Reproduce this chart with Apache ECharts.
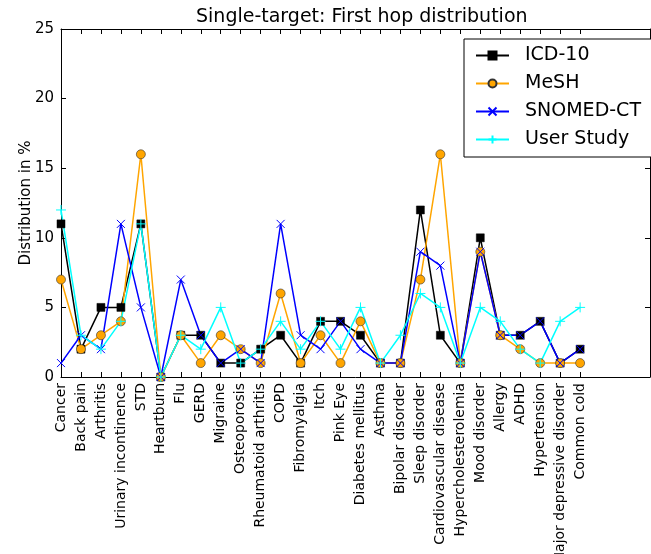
<!DOCTYPE html>
<html>
<head>
<meta charset="utf-8">
<script src="https://cdn.jsdelivr.net/npm/echarts@6/dist/echarts.min.js"></script>
<style>html,body{margin:0;padding:0;background:#fff}#c{width:651px;height:554px}</style>
</head>
<body>
<div id="c"></div>
<script>
var categories = ["Cancer","Back pain","Arthritis","Urinary incontinence","STD","Heartburn","Flu","GERD","Migraine","Osteoporosis","Rheumatoid arthritis","COPD","Fibromyalgia","Itch","Pink Eye","Diabetes mellitus","Asthma","Bipolar disorder","Sleep disorder","Cardiovascular disease","Hypercholesterolemia","Mood disorder","Allergy","ADHD","Hypertension","Major depressive disorder","Common cold"];
var icd10   = [11,2,5,5,11,0,3,3,1,1,2,3,1,4,4,3,1,1,12,3,1,10,3,3,4,1,2];
var mesh    = [7,2,3,4,16,0,3,1,3,2,1,6,1,3,1,4,1,1,7,16,1,9,3,2,1,1,1];
var snomed  = [1,3,2,11,5,0,7,3,1,2,1,11,3,2,4,2,1,1,9,8,1,9,3,3,4,1,2];
var userStudy = [12,3,2,4,11,0,3,2,5,1,2,4,2,4,2,5,1,3,6,5,1,5,4,2,1,4,5];
var yTicks = [0,5,10,15,20,25];

function pairs(arr){ return arr.map(function(v,i){ return [i,v]; }); }
var idx = categories.map(function(_,i){ return i; });
var F = '"DejaVu Sans", sans-serif';

var chart = echarts.init(document.getElementById('c'), null, {renderer:'canvas'});
chart.setOption({
  animation:false,
  backgroundColor:'#fff',
  title:{ text:'Single-target: First hop distribution', left:191, top:3,
    textStyle:{ fontFamily:F, fontSize:19, fontWeight:'normal', color:'#000' } },
  grid:{ left:61, right:1, top:29, bottom:177, outerBoundsMode:'none', containLabel:false },
  legend:{
    orient:'vertical', left:464, top:39,
    backgroundColor:'#fff', borderColor:'#000', borderWidth:1, borderRadius:0,
    padding:[7,15,8,11], itemWidth:33, itemHeight:10, itemGap:9,
    textStyle:{ fontFamily:F, fontSize:19, color:'#000', lineHeight:18, padding:[0,0,0,11] },
    data:['ICD-10','MeSH','SNOMED-CT','User Study']
  },
  xAxis:[{
    type:'value', min:0, max:29.5, position:'bottom',
    axisLine:{ show:true, onZero:false, lineStyle:{ color:'#000', width:1 } },
    axisTick:{ show:true, inside:true, length:5, customValues:idx, lineStyle:{ color:'#000' } },
    axisLabel:{ show:true, customValues:idx, rotate:90, margin:6, fontFamily:F, fontSize:14, color:'#000',
      formatter:function(v){ return categories[Math.round(v)] || ''; } },
    splitLine:{ show:false }
  },{
    type:'value', min:0, max:29.5, position:'top',
    axisLine:{ show:true, onZero:false, lineStyle:{ color:'#000', width:1 } },
    axisTick:{ show:true, inside:true, length:5, customValues:idx, lineStyle:{ color:'#000' } },
    axisLabel:{ show:false }, splitLine:{ show:false }
  }],
  yAxis:[{
    type:'value', min:0, max:25, interval:5, position:'left',
    name:'Distribution in %', nameLocation:'middle', nameGap:27, nameMoveOverlap:false,
    nameTextStyle:{ fontFamily:F, fontSize:15, color:'#000' },
    axisLine:{ show:true, onZero:false, lineStyle:{ color:'#000', width:1 } },
    axisTick:{ show:true, inside:true, length:5, lineStyle:{ color:'#000' } },
    axisLabel:{ fontFamily:F, fontSize:15, color:'#000', margin:7,
      customValues:yTicks },
    splitLine:{ show:false }
  },{
    type:'value', min:0, max:25, interval:5, position:'right',
    axisLine:{ show:true, onZero:false, lineStyle:{ color:'#000', width:1 } },
    axisTick:{ show:true, inside:true, length:5, lineStyle:{ color:'#000' } },
    axisLabel:{ show:false }, splitLine:{ show:false }
  }],
  series:[
    { name:'ICD-10', type:'line', data:pairs(icd10), symbol:'rect', symbolSize:8, showAllSymbol:true,
      lineStyle:{ color:'#000', width:1.5 }, itemStyle:{ color:'#000', borderColor:'#000', borderWidth:0.5 } },
    { name:'MeSH', type:'line', data:pairs(mesh), symbol:'circle', symbolSize:9, showAllSymbol:true,
      lineStyle:{ color:'#FFA500', width:1.5 }, itemStyle:{ color:'#FFA500', borderColor:'#333', borderWidth:0.6 } },
    { name:'SNOMED-CT', type:'line', data:pairs(snomed), symbol:'path://M0,0L10,10M10,0L0,10', symbolSize:8, showAllSymbol:true,
      lineStyle:{ color:'#0000FF', width:1.5 }, itemStyle:{ color:'rgba(0,0,0,0)', borderColor:'#0000FF', borderWidth:1 } },
    { name:'User Study', type:'line', data:pairs(userStudy), symbol:'path://M5,0L5,10M0,5L10,5', symbolSize:10, showAllSymbol:true,
      lineStyle:{ color:'#00FFFF', width:1.5 }, itemStyle:{ color:'rgba(0,0,0,0)', borderColor:'#00FFFF', borderWidth:1 } }
  ]
});
</script>
</body>
</html>
